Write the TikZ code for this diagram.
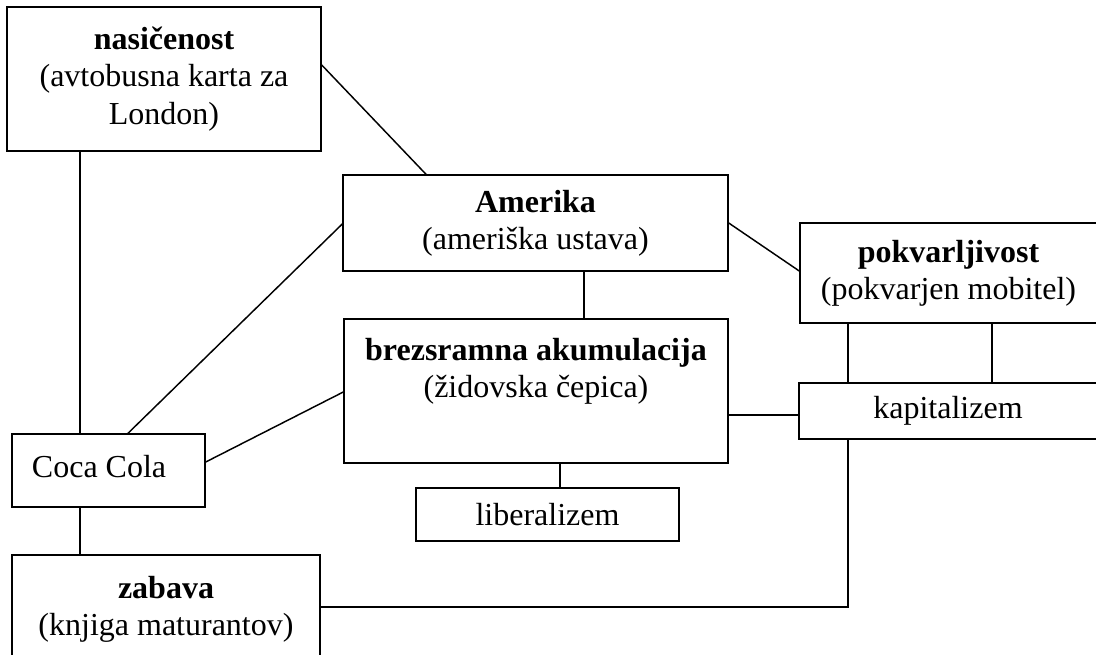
\documentclass[tikz,border=0pt]{standalone}
\usepackage{fontspec}
\setmainfont{Liberation Serif}
\begin{document}
\begin{tikzpicture}[x=0.75pt,y=-0.75pt,
  txt/.style={font=\fontsize{24pt}{28pt}\selectfont, align=center},
  box/.style={draw, line width=1.1pt, inner sep=0pt, txt},
  toptext/.style={txt, anchor=north, yshift=-11.5pt},
  link/.style={line width=1.1pt}]
\useasboundingbox (0,0) rectangle (1096,654);
\clip (0,0) rectangle (1096,654);

% concept boxes
\node[box, minimum width=235.5pt, minimum height=108pt] (nasic) at (164,79)
  {\textbf{nasičenost}\\(avtobusna karta za\\London)};
\node[box, minimum width=288.75pt, minimum height=72pt] (amer) at (535.5,223)
  {\textbf{Amerika}\\(ameriška ustava)};
\node[box, minimum width=222.75pt, minimum height=75pt] (pokv) at (948.5,273)
  {\textbf{pokvarljivost}\\(pokvarjen mobitel)};
\node[box, minimum width=223.5pt, minimum height=42pt] (kap) at (948,411)
  {kapitalizem};
\node[box, minimum width=288pt, minimum height=108pt,
  label={[toptext]north:{\textbf{brezsramna akumulacija}\\(židovska čepica)}}] (brez) at (536,391) {};
\node[box, minimum width=197.25pt, minimum height=39.75pt] (lib) at (547.5,514.5)
  {liberalizem};
\node[box, minimum width=144.75pt, minimum height=54.75pt,
  label={[txt, anchor=west, xshift=12pt, yshift=3pt]west:Coca Cola}] (coca) at (108.5,470.5) {};
\node[box, minimum width=231pt, minimum height=108.75pt,
  label={[toptext, yshift=-1.5pt]north:{\textbf{zabava}\\(knjiga maturantov)}}] (zab) at (166,627.5) {};

% connections
\draw[link] (nasic.east |- 0,65) -- (amer.north -| 426,0);
\draw[link] (nasic.south -| 80,0) -- (coca.north -| 80,0);
\draw[link] (coca.north -| 128,0) -- (amer.west |- 0,224);
\draw[link] (coca.east |- 0,462) -- (brez.west |- 0,392);
\draw[link] (coca.south -| 80,0) -- (zab.north -| 80,0);
\draw[link] (amer.south -| 584,0) -- (brez.north -| 584,0);
\draw[link] (amer.east |- 0,223) -- (pokv.west |- 0,271);
\draw[link] (pokv.south -| 848,0) -- (kap.north -| 848,0);
\draw[link] (pokv.south -| 992,0) -- (kap.north -| 992,0);
\draw[link] (brez.east |- 0,415) -- (kap.west |- 0,415);
\draw[link] (brez.south -| 560,0) -- (lib.north -| 560,0);
\draw[link] (kap.south -| 848,0) |- (zab.east |- 0,607);
\draw[line width=1.8pt] (417,607) -- (440,607);
\end{tikzpicture}
\end{document}
